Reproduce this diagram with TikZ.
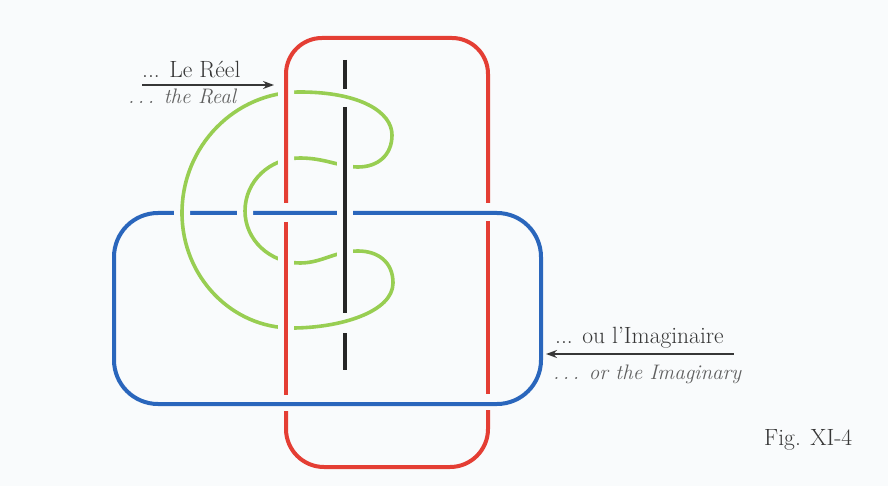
\documentclass[tikz,border=0pt]{standalone}
\definecolor{bgpaper}{RGB}{249,251,252}
\definecolor{ringred}{RGB}{228,62,52}
\definecolor{ringblue}{RGB}{42,102,188}
\definecolor{ringgreen}{RGB}{152,206,82}
\definecolor{inkgray}{RGB}{55,55,55}
\usepackage{tikz}
\usetikzlibrary{arrows.meta,positioning}

\begin{document}
\begin{tikzpicture}[x=1pt, y=-1pt,
    ring/.style={line width=4pt},
    halo/.style={preaction={draw=bgpaper, line width=16pt}},
    arr/.style={line width=1.6pt, inkgray, -{Stealth[length=11pt, width=8pt]}},
    printtxt/.style={font=\fontsize{23.5}{27}\selectfont, text=inkgray, inner sep=0pt},
    handtxt/.style={font=\fontsize{21}{25}\selectfont\itshape, text=inkgray!80, inner sep=0pt}]
      \fill[bgpaper] (0,0) rectangle (888,486);
      \useasboundingbox (0,0) rectangle (888,486);
      % Imaginary: blue ring (lowest layer, red leaves gaps for it)
      \draw[ring, ringblue, rounded corners=44pt] (114,213) rectangle (541,404);
      % Green closed curve: outer arc, lower loop, inner arc, upper loop
      \draw[ring, ringgreen, halo, line width=3.6pt]
        (300,92) .. controls (235,92) and (182,146) .. (182,213)
        .. controls (182,277) and (232,328) .. (292,328)
        .. controls (340,328) and (393,312) .. (393,283)
        .. controls (393,262) and (378,251) .. (358,251)
        .. controls (335,251) and (322,263) .. (300,263)
        .. controls (270,263) and (245,240) .. (245,211)
        .. controls (245,181) and (270,158) .. (300,158)
        .. controls (325,158) and (340,167) .. (358,167)
        .. controls (378,167) and (392,155) .. (392,135)
        .. controls (392,112) and (360,92) .. (300,92) -- cycle;
      % Black straight line, cut where green passes over it
      \foreach \a/\b in {60/89, 107/313, 333/370}{
        \draw[ring, black!85, halo] (345,\a) -- (345,\b);
      }
      % Real: red ring, over green, cut under blue
      \draw[ring, ringred, halo, rounded corners=36pt] (286,203) -- (286,38) -- (488,38) -- (488,203);
      \draw[ring, ringred, halo] (286,222) -- (286,395);
      \draw[ring, ringred, halo] (488,221) -- (488,394);
      \draw[ring, ringred, halo, rounded corners=38pt] (286,411) -- (286,467) -- (488,467) -- (488,410);
      % Labels
      \node[printtxt, anchor=base west] (reel) at (142,78) {... Le R\'eel};
      \node[handtxt, anchor=base west] (reelnote) at (128,104) {.\,.\,. the Real};
      \node[printtxt, anchor=base west] (imag) at (555,343) {... ou l'Imaginaire};
      \node[handtxt, anchor=base west] (imagnote) at (553,379) {.\,.\,. or the Imaginary};
      \node[printtxt, anchor=west] (fig) at (764,440) {Fig. XI-4};
      \coordinate (reeltip) at (274,85);
      \coordinate (imagtip) at (546,354);
      \draw[arr] ([yshift=-7pt]reel.base west) -- (reeltip);
      \draw[arr] ([xshift=10pt, yshift=-11pt]imag.base east) -- (imagtip);
    \end{tikzpicture}
\end{document}
